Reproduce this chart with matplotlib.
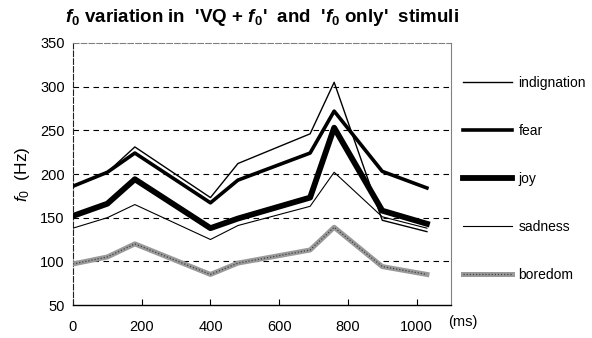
import matplotlib
matplotlib.use("Agg")
import matplotlib.pyplot as plt

plt.rcParams['font.family'] = ['Liberation Sans', 'DejaVu Sans']
plt.rcParams['mathtext.fontset'] = 'custom'
plt.rcParams['mathtext.rm'] = 'Liberation Sans'
plt.rcParams['mathtext.it'] = 'Liberation Sans:italic'
plt.rcParams['mathtext.bf'] = 'Liberation Sans:bold'
plt.rcParams['mathtext.bfit'] = 'Liberation Sans:italic:bold'

# time points (ms)
time_ms = [0, 100, 180, 400, 480, 690, 760, 900, 1030]

# f0 contours (Hz)
indignation = [186, 202, 231, 173, 212, 246, 305, 147, 134]
fear = [186, 202, 224, 167, 193, 224, 272, 203, 184]
joy = [152, 166, 194, 138, 149, 173, 253, 158, 143]
sadness = [138, 150, 165, 125, 141, 163, 202, 151, 138]
boredom = [97, 105, 120, 85, 98, 113, 139, 94, 85]

x_ticks = [0, 200, 400, 600, 800, 1000]
y_ticks = [50, 100, 150, 200, 250, 300, 350]

fig = plt.figure(figsize=(5.92, 3.38), dpi=100)
ax = fig.add_axes([0.1233, 0.0976, 0.6385, 0.7752])

# horizontal dashed grid
for y in y_ticks[1:-1]:
    ax.axhline(y, color='black', lw=0.8, dashes=(5, 4), zorder=1)

h_ind, = ax.plot(time_ms, indignation, color='black', lw=1.0, zorder=3)
h_fear, = ax.plot(time_ms, fear, color='black', lw=2.6, zorder=3)
h_joy, = ax.plot(time_ms, joy, color='black', lw=4.2, zorder=3)
h_sad, = ax.plot(time_ms, sadness, color='black', lw=0.8, zorder=3)
h_bor1, = ax.plot(time_ms, boredom, color='#9a9a9a', lw=3.6, zorder=3)
h_bor2, = ax.plot(time_ms, boredom, color='#404040', lw=0.9, dashes=(1, 1.5), zorder=4)

ax.set_xlim(0, 1100)
ax.set_ylim(50, 350)
ax.set_xticks(x_ticks)
ax.set_yticks(y_ticks)
ax.tick_params(axis='x', direction='in', length=4, width=0.8, pad=11, labelsize=10.5)
ax.tick_params(axis='y', length=0, pad=6, labelsize=10.5)

ax.spines['top'].set_color('#808080')
ax.spines['top'].set_linestyle((0, (5, 2)))
ax.spines['right'].set_color('#808080')
ax.spines['left'].set_linestyle((0, (5, 2)))
ax.spines['left'].set_color('#202020')
ax.spines['bottom'].set_linewidth(1.0)

ax.set_ylabel(r'$f_0$  (Hz)', fontsize=12.5, labelpad=6)
fig.text(448 / 592, 1 - 322 / 338, '(ms)', fontsize=10.5, va='center', ha='left')

fig.text(262 / 592, 1 - 18 / 338,
         r"$\mathbfit{f}_\mathbf{0}$ variation in  'VQ + $\mathbfit{f}_\mathbf{0}$'  and  '$\mathbfit{f}_\mathbf{0}$ only'  stimuli",
         fontsize=13.5, fontweight='bold', ha='center', va='center')

fig.legend([h_ind, h_fear, h_joy, h_sad, (h_bor1, h_bor2)],
           ['indignation', 'fear', 'joy', 'sadness', 'boredom'],
           loc='center left', bbox_to_anchor=(463 / 592, 1 - 179 / 338),
           frameon=False, fontsize=10, handlelength=3.5, handletextpad=0.5,
           labelspacing=2.45, borderpad=0, borderaxespad=0)

fig.savefig('out.png', dpi=100)
